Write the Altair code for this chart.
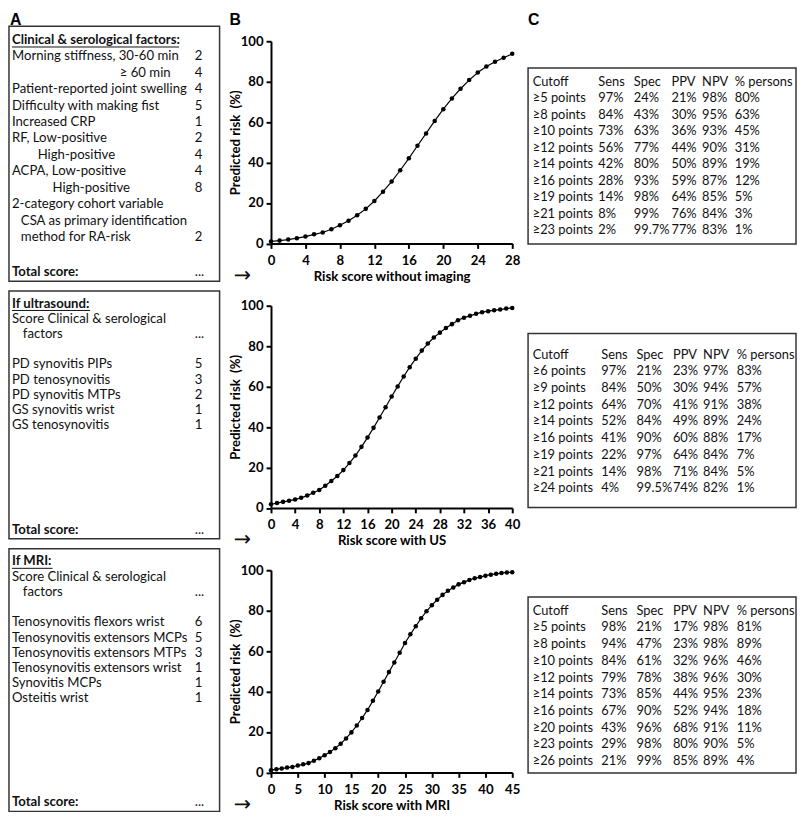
import altair as alt
import pandas as pd

FONT = "Lato"
INK = "#111111"
BOX_STROKE = "#333333"
FS = 13.3
TFS = 13

# ---------------- data ----------------
score_noimg = list(range(0, 29))
risk_noimg = [1.0, 1.4, 1.9, 2.6, 3.4, 4.5, 5.4, 7.0, 9.0, 11.2, 13.9, 17.1, 21.0, 25.6, 30.6,
              36.2, 42.1, 48.3, 54.4, 60.6, 66.4, 71.7, 76.5, 80.8, 84.5, 87.5, 89.9, 91.8, 93.8]

score_us = list(range(0, 41))
risk_us = [1.8, 2.4, 3.0, 3.5, 4.2, 5.0, 6.1, 7.5, 8.9, 11.0, 13.3, 15.8, 18.7, 22.2, 25.9,
           30.2, 34.8, 39.6, 44.7, 49.8, 55.1, 60.1, 65.0, 69.6, 73.8, 77.8, 81.3, 84.3, 86.7,
           89.0, 90.9, 92.8, 94.1, 95.0, 96.0, 96.8, 97.3, 97.8, 98.1, 98.6, 98.9]

score_mri = list(range(0, 46))
risk_mri = [1.1, 1.6, 1.9, 2.4, 2.7, 3.4, 4.0, 4.6, 5.8, 7.0, 8.5, 10.1, 12.0, 14.2, 16.8,
            19.8, 23.2, 26.9, 30.9, 35.4, 40.0, 44.8, 49.6, 54.4, 59.2, 64.0, 68.3, 72.3, 76.2,
            79.7, 82.7, 85.4, 87.8, 89.8, 91.5, 93.0, 94.1, 95.2, 96.0, 96.6, 97.3, 97.8, 98.2,
            98.6, 98.9, 99.0]

x_ticks_noimg = [0, 4, 8, 12, 16, 20, 24, 28]
x_ticks_us = [0, 4, 8, 12, 16, 20, 24, 28, 32, 36, 40]
x_ticks_mri = [0, 5, 10, 15, 20, 25, 30, 35, 40, 45]
y_ticks = [0, 20, 40, 60, 80, 100]

box1_title = "Clinical & serological factors:"
box1_items = ["Morning stiffness, 30-60 min", "\u2265 60 min", "Patient-reported joint swelling",
              "Difficulty with making fist", "Increased CRP", "RF, Low-positive", "High-positive",
              "ACPA, Low-positive", "High-positive", "2-category cohort variable",
              "CSA as primary identification", "method for RA-risk"]
box1_points = ["2", "4", "4", "5", "1", "2", "4", "4", "8", "", "", "2"]

box2_title = "If ultrasound:"
box2_items = ["Score Clinical & serological", "factors", "", "PD synovitis PIPs",
              "PD tenosynovitis", "PD synovitis MTPs", "GS synovitis wrist", "GS tenosynovitis"]
box2_points = ["", "...", "", "5", "3", "2", "1", "1"]

box3_title = "If MRI:"
box3_items = ["Score Clinical & serological", "factors", "", "Tenosynovitis flexors wrist",
              "Tenosynovitis extensors MCPs", "Tenosynovitis extensors MTPs",
              "Tenosynovitis extensors wrist", "Synovitis MCPs", "Osteitis wrist"]
box3_points = ["", "...", "", "6", "5", "3", "1", "1", "1"]

total_label = "Total score:"
total_value = "..."

table_header = ["Cutoff", "Sens", "Spec", "PPV", "NPV", "% persons"]

t1_cutoff = ["\u22655 points", "\u22658 points", "\u226510 points", "\u226512 points", "\u226514 points",
             "\u226516 points", "\u226519 points", "\u226521 points", "\u226523 points"]
t1_sens = ["97%", "84%", "73%", "56%", "42%", "28%", "14%", "8%", "2%"]
t1_spec = ["24%", "43%", "63%", "77%", "80%", "93%", "98%", "99%", "99.7%"]
t1_ppv = ["21%", "30%", "36%", "44%", "50%", "59%", "64%", "76%", "77%"]
t1_npv = ["98%", "95%", "93%", "90%", "89%", "87%", "85%", "84%", "83%"]
t1_pers = ["80%", "63%", "45%", "31%", "19%", "12%", "5%", "3%", "1%"]

t2_cutoff = ["\u22656 points", "\u22659 points", "\u226512 points", "\u226514 points", "\u226516 points",
             "\u226519 points", "\u226521 points", "\u226524 points"]
t2_sens = ["97%", "84%", "64%", "52%", "41%", "22%", "14%", "4%"]
t2_spec = ["21%", "50%", "70%", "84%", "90%", "97%", "98%", "99.5%"]
t2_ppv = ["23%", "30%", "41%", "49%", "60%", "64%", "71%", "74%"]
t2_npv = ["97%", "94%", "91%", "89%", "88%", "84%", "84%", "82%"]
t2_pers = ["83%", "57%", "38%", "24%", "17%", "7%", "5%", "1%"]

t3_cutoff = ["\u22655 points", "\u22658 points", "\u226510 points", "\u226512 points", "\u226514 points",
             "\u226516 points", "\u226520 points", "\u226523 points", "\u226526 points"]
t3_sens = ["98%", "94%", "84%", "79%", "73%", "67%", "43%", "29%", "21%"]
t3_spec = ["21%", "47%", "61%", "78%", "85%", "90%", "96%", "98%", "99%"]
t3_ppv = ["17%", "23%", "32%", "38%", "44%", "52%", "68%", "80%", "85%"]
t3_npv = ["98%", "98%", "96%", "96%", "95%", "94%", "91%", "90%", "89%"]
t3_pers = ["81%", "89%", "46%", "30%", "23%", "18%", "11%", "5%", "4%"]

# ---------------- layout (styling only) ----------------
BOX_W = 213
PLOT_W = 244
PLOT_H = 204.5
TABLE_W = 271
box1_indent_px = [0, 109, 0, 0, 0, 0, 26, 0, 41, 0, 9, 9]
box2_indent_px = [0, 11, 0, 0, 0, 0, 0, 0]
box3_indent_px = [0, 11, 0, 0, 0, 0, 0, 0, 0]
POINTS_X = 188


def text_box(title, items, points, indents, H, first, pitch, ul_w):
    yenc = alt.Y("row:Q", scale=alt.Scale(domain=[0, 1], range=[first, first + pitch]), axis=None)
    df = pd.DataFrame({"row": list(range(1, len(items) + 1)), "label": items,
                       "pts": points, "ind": indents})
    layers = []
    hdr = alt.Chart(pd.DataFrame({"row": [0], "label": [title]})).mark_text(
        font=FONT, fontSize=FS, fontWeight="bold", align="left", baseline="middle", color=INK
    ).encode(x=alt.value(3), y=yenc, text="label:N")
    ul = alt.Chart(pd.DataFrame({"row": [0]})).mark_rule(color=INK, strokeWidth=1, yOffset=7).encode(
        x=alt.value(3), x2=alt.value(3 + ul_w), y=yenc)
    layers += [hdr, ul]
    for ind in sorted(set(indents)):
        layers.append(
            alt.Chart(df).transform_filter(alt.datum.ind == ind).mark_text(
                font=FONT, fontSize=FS, align="left", baseline="middle", color=INK
            ).encode(x=alt.value(3 + ind), y=yenc, text="label:N"))
    layers.append(
        alt.Chart(df).mark_text(font=FONT, fontSize=FS, align="left", baseline="middle", color=INK)
        .encode(x=alt.value(POINTS_X), y=yenc, text="pts:N"))
    tot = pd.DataFrame({"a": [total_label], "b": [total_value]})
    layers.append(alt.Chart(tot).mark_text(font=FONT, fontSize=FS, fontWeight="bold", align="left",
                                           baseline="middle", color=INK)
                  .encode(x=alt.value(3), y=alt.value(H - 9), text="a:N"))
    layers.append(alt.Chart(tot).mark_text(font=FONT, fontSize=FS, align="left",
                                           baseline="middle", color=INK)
                  .encode(x=alt.value(POINTS_X), y=alt.value(H - 9), text="b:N"))
    return alt.layer(*layers).properties(
        width=BOX_W, height=H, view=alt.ViewBackground(stroke=BOX_STROKE, strokeWidth=1.5))


def table(columns, H, first, pitch, col_x):
    yenc = alt.Y("row:Q", scale=alt.Scale(domain=[0, 1], range=[first, first + pitch]), axis=None)
    layers = []
    for name, vals, xpos in zip(table_header, columns, col_x):
        df = pd.DataFrame({"row": list(range(0, len(vals) + 1)), "txt": [name] + vals})
        layers.append(alt.Chart(df).mark_text(font=FONT, fontSize=TFS, align="left",
                                              baseline="middle", color=INK)
                      .encode(x=alt.value(xpos), y=yenc, text="txt:N"))
    return alt.layer(*layers).properties(
        width=TABLE_W, height=H, view=alt.ViewBackground(stroke=BOX_STROKE, strokeWidth=1.5))


def risk_chart(scores, risks, xmax, ticks, title):
    df = pd.DataFrame({"score": scores, "risk": risks})
    base = alt.Chart(df).encode(
        x=alt.X("score:Q", scale=alt.Scale(domain=[0, xmax]),
                axis=alt.Axis(values=ticks, title=title)),
        y=alt.Y("risk:Q", scale=alt.Scale(domain=[0, 100]),
                axis=alt.Axis(values=y_ticks, title="Predicted risk\u00a0 (%)")),
    )
    line = base.mark_line(color="black", strokeWidth=1.2)
    pts = base.mark_circle(color="black", size=21, opacity=1)
    arrow = alt.Chart(pd.DataFrame({"a": ["\u2192"]})).mark_text(
        font="DejaVu Sans", fontSize=21, color=INK, align="center", baseline="middle"
    ).encode(x=alt.value(-29), y=alt.value(PLOT_H + 33), text="a:N")
    return alt.layer(line, pts, arrow).properties(width=PLOT_W, height=PLOT_H)


def spacer(letter, w, h, xpos):
    return alt.Chart(pd.DataFrame({"t": [letter]})).mark_text(
        font="Liberation Sans", fontWeight="bold", fontSize=16, color="black",
        align="left", baseline="top"
    ).encode(x=alt.value(xpos), y=alt.value(-1), text="t:N").properties(width=w, height=h)


box1 = text_box(box1_title, box1_items, box1_points, box1_indent_px, 258, 14, 16.6, 169)
box2 = text_box(box2_title, box2_items, box2_points, box2_indent_px, 250.5, 12.7, 15.4, 79)
box3 = text_box(box3_title, box3_items, box3_points, box3_indent_px, 265.5, 12.7, 15.4, 41)

colA = alt.vconcat(spacer("A", BOX_W, 2.7, 1), box1, box2, box3, spacing=9.8, bounds="flush")

c1 = risk_chart(score_noimg, risk_noimg, 28, x_ticks_noimg, "Risk score without imaging")
c2 = risk_chart(score_us, risk_us, 40, x_ticks_us, "Risk score with US")
c3 = risk_chart(score_mri, risk_mri, 45, x_ticks_mri, "Risk score with MRI")
colB = alt.vconcat(spacer("B", PLOT_W, 28, -42),
                   alt.vconcat(c1, c2, c3, spacing=62.5, bounds="flush"),
                   spacing=0, bounds="flush")

t1 = table([t1_cutoff, t1_sens, t1_spec, t1_ppv, t1_npv, t1_pers], 178, 14, 16.7,
           [4.7, 71, 107, 145, 176, 209])
t2 = table([t2_cutoff, t2_sens, t2_spec, t2_ppv, t2_npv, t2_pers], 176, 21.5, 16.9,
           [4.7, 74, 109.7, 146.5, 177, 211])
t3 = table([t3_cutoff, t3_sens, t3_spec, t3_ppv, t3_npv, t3_pers], 178, 14, 16.9,
           [4.7, 74, 109.7, 146.5, 177, 211])
colC = alt.vconcat(spacer("C", TABLE_W, 55, 0),
                   alt.vconcat(t1, t2, t3, spacing=90.5, bounds="flush"),
                   spacing=0, bounds="flush")

chart = alt.hconcat(colA, colB, colC, spacing=7).properties(padding=0)

chart = chart.configure_view(strokeWidth=0).configure_axis(
    grid=False, domainColor="black", tickColor="black", domainWidth=2, tickWidth=2, tickSize=5,
    labelFont=FONT, labelFontWeight="bold", labelFontSize=13.3, labelColor="black",
    titleFont=FONT, titleFontWeight="bold", titleFontSize=13.3, titleColor="black",
    labelFlush=False,
).configure_axisX(labelPadding=5, titlePadding=3).configure_axisY(labelPadding=3, titlePadding=-2)

chart.save("out.html", embed_options={"renderer": "svg", "actions": False})
